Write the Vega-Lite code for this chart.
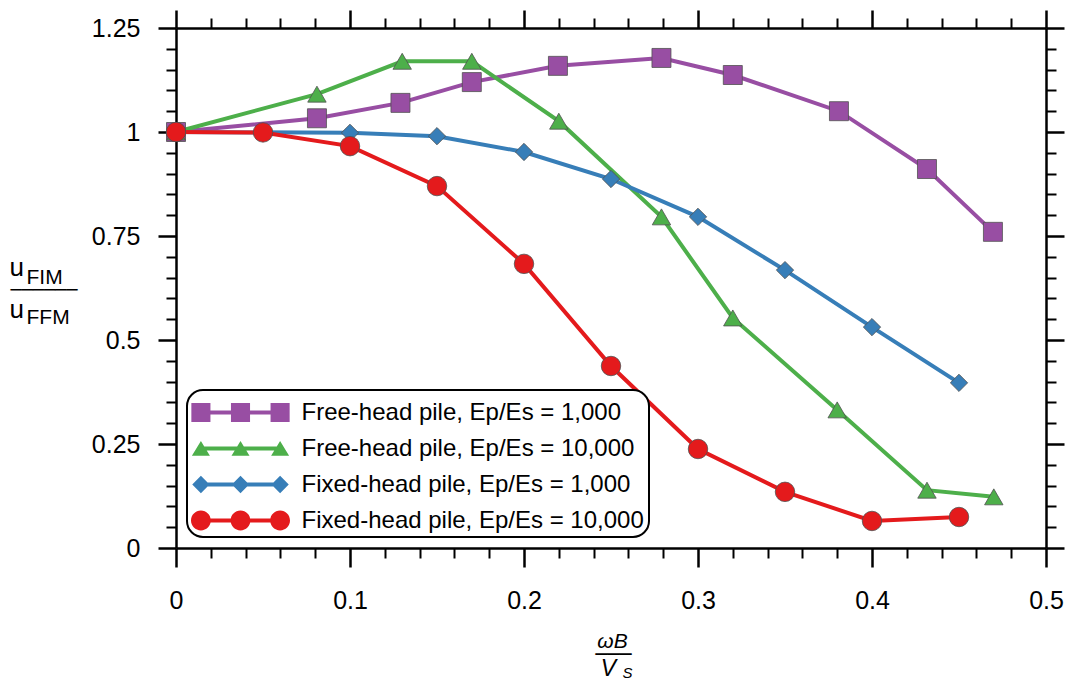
{
  "$schema": "https://vega.github.io/schema/vega-lite/v6.json",
  "width": 870,
  "height": 520,
  "autosize": {"type": "none"},
  "padding": {"left": 176, "top": 28, "right": 25, "bottom": 139},
  "background": "white",
  "config": {
    "view": {"stroke": null},
    "font": "Liberation Sans",
    "legend": {"strokeWidth": 2},
    "axis": {"grid": false, "domainColor": "black", "tickColor": "black", "labelColor": "black", "titleColor": "black", "titleFontWeight": "normal", "labelFont": "Liberation Sans", "titleFont": "Liberation Sans", "labelFlush": false, "labelOverlap": false}
  },
  "data": {
    "values": [
      {"s": "Free-head pile, Ep/Es = 1,000", "x": 0, "y": 1.0},
      {"s": "Free-head pile, Ep/Es = 1,000", "x": 0.081, "y": 1.033},
      {"s": "Free-head pile, Ep/Es = 1,000", "x": 0.129, "y": 1.07},
      {"s": "Free-head pile, Ep/Es = 1,000", "x": 0.170, "y": 1.12},
      {"s": "Free-head pile, Ep/Es = 1,000", "x": 0.2195, "y": 1.159},
      {"s": "Free-head pile, Ep/Es = 1,000", "x": 0.279, "y": 1.178},
      {"s": "Free-head pile, Ep/Es = 1,000", "x": 0.320, "y": 1.137},
      {"s": "Free-head pile, Ep/Es = 1,000", "x": 0.381, "y": 1.05},
      {"s": "Free-head pile, Ep/Es = 1,000", "x": 0.4316, "y": 0.911},
      {"s": "Free-head pile, Ep/Es = 1,000", "x": 0.4695, "y": 0.76},
      {"s": "Free-head pile, Ep/Es = 10,000", "x": 0, "y": 1.0},
      {"s": "Free-head pile, Ep/Es = 10,000", "x": 0.081, "y": 1.091},
      {"s": "Free-head pile, Ep/Es = 10,000", "x": 0.130, "y": 1.17},
      {"s": "Free-head pile, Ep/Es = 10,000", "x": 0.170, "y": 1.17},
      {"s": "Free-head pile, Ep/Es = 10,000", "x": 0.220, "y": 1.026},
      {"s": "Free-head pile, Ep/Es = 10,000", "x": 0.279, "y": 0.796},
      {"s": "Free-head pile, Ep/Es = 10,000", "x": 0.320, "y": 0.553},
      {"s": "Free-head pile, Ep/Es = 10,000", "x": 0.380, "y": 0.332},
      {"s": "Free-head pile, Ep/Es = 10,000", "x": 0.4316, "y": 0.139},
      {"s": "Free-head pile, Ep/Es = 10,000", "x": 0.470, "y": 0.123},
      {"s": "Fixed-head pile, Ep/Es = 1,000", "x": 0, "y": 1.0},
      {"s": "Fixed-head pile, Ep/Es = 1,000", "x": 0.1, "y": 0.998},
      {"s": "Fixed-head pile, Ep/Es = 1,000", "x": 0.15, "y": 0.99},
      {"s": "Fixed-head pile, Ep/Es = 1,000", "x": 0.2, "y": 0.952},
      {"s": "Fixed-head pile, Ep/Es = 1,000", "x": 0.25, "y": 0.887},
      {"s": "Fixed-head pile, Ep/Es = 1,000", "x": 0.3, "y": 0.796},
      {"s": "Fixed-head pile, Ep/Es = 1,000", "x": 0.35, "y": 0.668},
      {"s": "Fixed-head pile, Ep/Es = 1,000", "x": 0.4, "y": 0.531},
      {"s": "Fixed-head pile, Ep/Es = 1,000", "x": 0.45, "y": 0.397},
      {"s": "Fixed-head pile, Ep/Es = 10,000", "x": 0, "y": 1.0},
      {"s": "Fixed-head pile, Ep/Es = 10,000", "x": 0.05, "y": 0.999},
      {"s": "Fixed-head pile, Ep/Es = 10,000", "x": 0.1, "y": 0.966},
      {"s": "Fixed-head pile, Ep/Es = 10,000", "x": 0.15, "y": 0.87},
      {"s": "Fixed-head pile, Ep/Es = 10,000", "x": 0.2, "y": 0.683},
      {"s": "Fixed-head pile, Ep/Es = 10,000", "x": 0.25, "y": 0.4375},
      {"s": "Fixed-head pile, Ep/Es = 10,000", "x": 0.3, "y": 0.238},
      {"s": "Fixed-head pile, Ep/Es = 10,000", "x": 0.35, "y": 0.135},
      {"s": "Fixed-head pile, Ep/Es = 10,000", "x": 0.4, "y": 0.065},
      {"s": "Fixed-head pile, Ep/Es = 10,000", "x": 0.45, "y": 0.0745}
    ]
  },
  "resolve": {"axis": {"x": "independent", "y": "independent"}},
  "layer": [
    {
      "mark": {"type": "line", "strokeWidth": 4},
      "encoding": {
        "x": {"field": "x", "type": "quantitative", "scale": {"domain": [0, 0.5], "nice": false, "zero": false},
          "axis": {"orient": "bottom", "values": [0, 0.1, 0.2, 0.3, 0.4, 0.5], "labelExpr": "toString(datum.value)", "tickSize": 19, "tickWidth": 2.5, "domainWidth": 2.5, "labelFontSize": 25, "labelPadding": 21,
            "title": "ωB", "titleFontSize": 21, "titleFontStyle": "italic", "titleX": 436, "titleY": 99, "titleAlign": "center", "titleBaseline": "alphabetic"}},
        "y": {"field": "y", "type": "quantitative", "scale": {"domain": [0, 1.25], "nice": false, "zero": false},
          "axis": {"orient": "left", "values": [0, 0.25, 0.5, 0.75, 1, 1.25], "labelExpr": "toString(datum.value)", "tickSize": 18, "tickWidth": 2.5, "domainWidth": 2.5, "labelFontSize": 25, "labelPadding": 18,
            "title": ["u", "u"], "titleFontSize": 26, "titleLineHeight": 42, "titleAngle": 0, "titleX": -167, "titleY": 247, "titleAlign": "left", "titleBaseline": "alphabetic"}},
        "color": {"field": "s", "type": "nominal",
          "scale": {"domain": ["Free-head pile, Ep/Es = 1,000", "Free-head pile, Ep/Es = 10,000", "Fixed-head pile, Ep/Es = 1,000", "Fixed-head pile, Ep/Es = 10,000"], "range": ["#984ea3", "#4daf4a", "#377eb8", "#e41a1c"]},
          "legend": {
            "orient": "bottom-left", "offset": 11, "title": null, "symbolSize": 1296, "symbolOffset": 31, "labelOffset": 43,
            "labelFontSize": 24, "labelFont": "Liberation Sans", "labelColor": "black", "labelLimit": 600, "padding": 4.5, "rowPadding": 6,
            "strokeColor": "black", "cornerRadius": 16, "fillColor": "white",
            "encode": {"symbols": {"update": {
              "shape": {"signal": "datum.value === 'Free-head pile, Ep/Es = 1,000' ? 'M-2.73,-0.53H-1.67V0.53H-2.73Z M-0.53,-0.53H0.53V0.53H-0.53Z M1.67,-0.53H2.73V0.53H1.67Z M-2.2,-0.11H2.2V0.11H-2.2Z' : datum.value === 'Free-head pile, Ep/Es = 10,000' ? 'M-2.2,-0.42L-1.7,0.4H-2.7Z M0,-0.42L0.5,0.4H-0.5Z M2.2,-0.42L2.7,0.4H1.7Z M-2.2,-0.11H2.2V0.11H-2.2Z' : datum.value === 'Fixed-head pile, Ep/Es = 1,000' ? 'M-2.2,-0.48L-1.72,0L-2.2,0.48L-2.68,0Z M0,-0.48L0.48,0L0,0.48L-0.48,0Z M2.2,-0.48L2.68,0L2.2,0.48L1.72,0Z M-2.2,-0.11H2.2V0.11H-2.2Z' : 'M-2.75,0A0.55 0.55 0 1 1 -1.65,0A0.55 0.55 0 1 1 -2.75,0Z M-0.55,0A0.55 0.55 0 1 1 0.55,0A0.55 0.55 0 1 1 -0.55,0Z M1.65,0A0.55 0.55 0 1 1 2.75,0A0.55 0.55 0 1 1 1.65,0Z M-2.2,-0.11H2.2V0.11H-2.2Z'"},
              "fill": {"signal": "scale('color', datum.value)"},
              "stroke": {"value": "transparent"},
              "strokeWidth": {"value": 0},
              "opacity": {"value": 1}
            }}}
          }
        }
      }
    },
    {
      "transform": [{"filter": "datum.s === 'Free-head pile, Ep/Es = 1,000'"}],
      "mark": {"type": "point", "shape": "square", "filled": true, "opacity": 1, "stroke": "#505050", "strokeWidth": 0.8, "size": 361},
      "encoding": {
        "x": {"field": "x", "type": "quantitative", "scale": {"domain": [0, 0.5], "nice": false, "zero": false},
          "axis": {"orient": "top", "values": [0, 0.1, 0.2, 0.3, 0.4, 0.5], "labels": false, "tickSize": 18, "tickWidth": 2.5, "domainWidth": 2.5,
            "title": "───", "titleFont": "DejaVu Sans", "titleFontSize": 20, "titleX": 437, "titleY": 632, "titleAlign": "center", "titleBaseline": "alphabetic"}},
        "y": {"field": "y", "type": "quantitative", "scale": {"domain": [0, 1.25], "nice": false, "zero": false},
          "axis": {"orient": "right", "values": [0, 0.25, 0.5, 0.75, 1, 1.25], "labels": false, "tickSize": 18, "tickWidth": 2.5, "domainWidth": 2.5,
            "title": "──────", "titleFont": "DejaVu Sans", "titleFontSize": 18.5, "titleAngle": 0, "titleX": -1036, "titleY": 267, "titleAlign": "left", "titleBaseline": "alphabetic"}},
        "color": {"field": "s", "type": "nominal", "legend": null}
      }
    },
    {
      "transform": [{"filter": "datum.s === 'Free-head pile, Ep/Es = 10,000'"}],
      "mark": {"type": "point", "shape": "triangle-up", "filled": true, "opacity": 1, "stroke": "#505050", "strokeWidth": 0.8, "size": 340},
      "encoding": {
        "x": {"field": "x", "type": "quantitative", "scale": {"domain": [0, 0.5], "nice": false, "zero": false},
          "axis": {"orient": "bottom", "values": [0.02, 0.04, 0.06, 0.08, 0.12, 0.14, 0.16, 0.18, 0.22, 0.24, 0.26, 0.28, 0.32, 0.34, 0.36, 0.38, 0.42, 0.44, 0.46, 0.48], "labels": false, "domain": false, "tickSize": 10, "tickWidth": 2,
            "title": "V", "titleFontSize": 23, "titleFontStyle": "italic", "titleX": 432, "titleY": 127, "titleAlign": "center", "titleBaseline": "alphabetic"}},
        "y": {"field": "y", "type": "quantitative", "scale": {"domain": [0, 1.25], "nice": false, "zero": false},
          "axis": {"orient": "left", "values": [0.05, 0.1, 0.15, 0.2, 0.3, 0.35, 0.4, 0.45, 0.55, 0.6, 0.65, 0.7, 0.8, 0.85, 0.9, 0.95, 1.05, 1.1, 1.15, 1.2], "labels": false, "domain": false, "tickSize": 10, "tickWidth": 2,
            "title": ["FIM", "FFM"], "titleFontSize": 21, "titleLineHeight": 40, "titleAngle": 0, "titleX": -150, "titleY": 255, "titleAlign": "left", "titleBaseline": "alphabetic"}},
        "color": {"field": "s", "type": "nominal", "legend": null}
      }
    },
    {
      "transform": [{"filter": "datum.s === 'Fixed-head pile, Ep/Es = 1,000'"}],
      "mark": {"type": "point", "shape": "diamond", "filled": true, "opacity": 1, "stroke": "#505050", "strokeWidth": 0.8, "size": 300},
      "encoding": {
        "x": {"field": "x", "type": "quantitative", "scale": {"domain": [0, 0.5], "nice": false, "zero": false},
          "axis": {"orient": "top", "values": [0.02, 0.04, 0.06, 0.08, 0.12, 0.14, 0.16, 0.18, 0.22, 0.24, 0.26, 0.28, 0.32, 0.34, 0.36, 0.38, 0.42, 0.44, 0.46, 0.48], "labels": false, "domain": false, "tickSize": 10, "tickWidth": 2,
            "title": "S", "titleFontSize": 15, "titleFontStyle": "italic", "titleX": 451, "titleY": 649, "titleAlign": "center", "titleBaseline": "alphabetic"}},
        "y": {"field": "y", "type": "quantitative", "scale": {"domain": [0, 1.25], "nice": false, "zero": false},
          "axis": {"orient": "right", "values": [0.05, 0.1, 0.15, 0.2, 0.3, 0.35, 0.4, 0.45, 0.55, 0.6, 0.65, 0.7, 0.8, 0.85, 0.9, 0.95, 1.05, 1.1, 1.15, 1.2], "labels": false, "domain": false, "tickSize": 10, "tickWidth": 2, "title": null}},
        "color": {"field": "s", "type": "nominal", "legend": null}
      }
    },
    {
      "transform": [{"filter": "datum.s === 'Fixed-head pile, Ep/Es = 10,000'"}],
      "mark": {"type": "point", "shape": "circle", "filled": true, "opacity": 1, "stroke": "#505050", "strokeWidth": 0.8, "size": 380},
      "encoding": {
        "x": {"field": "x", "type": "quantitative", "scale": {"domain": [0, 0.5], "nice": false, "zero": false}, "axis": null},
        "y": {"field": "y", "type": "quantitative", "scale": {"domain": [0, 1.25], "nice": false, "zero": false}, "axis": null},
        "color": {"field": "s", "type": "nominal", "legend": null}
      }
    }
  ]
}
